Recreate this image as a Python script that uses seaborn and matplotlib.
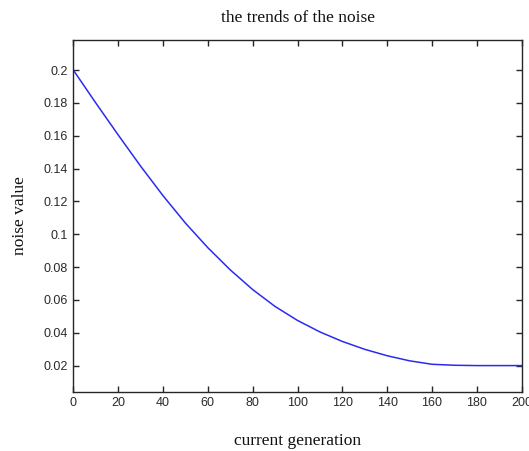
import matplotlib
matplotlib.use("Agg")
import matplotlib.pyplot as plt
import seaborn as sns
import pandas as pd

# noise level sampled along the generations
generation = [0, 10, 20, 30, 40, 50, 60, 70, 80, 90, 100, 110, 120, 130,
              140, 150, 160, 170, 180, 190, 200]
noise = [0.2000, 0.1800, 0.1605, 0.1415, 0.1235, 0.1068, 0.0918, 0.0783,
         0.0663, 0.0560, 0.0475, 0.0405, 0.0347, 0.0299, 0.0260, 0.0229,
         0.0208, 0.0202, 0.0200, 0.0200, 0.0200]

x_ticks = [0, 20, 40, 60, 80, 100, 120, 140, 160, 180, 200]
y_ticks = [0.02, 0.04, 0.06, 0.08, 0.1, 0.12, 0.14, 0.16, 0.18, 0.2]
y_tick_labels = ["0.02", "0.04", "0.06", "0.08", "0.1", "0.12", "0.14",
                 "0.16", "0.18", "0.2"]

sns.set_style("ticks")
plt.rcParams["font.family"] = ["Liberation Sans", "DejaVu Sans"]

df = pd.DataFrame({"generation": generation, "noise": noise})

fig = plt.figure(figsize=(5.29, 4.51), dpi=100)
ax = fig.add_axes([0.1386, 0.1315, 0.8476, 0.7798])

sns.lineplot(data=df, x="generation", y="noise", ax=ax,
             color="#2b2bf0", linewidth=1.1)

ax.set_xlim(0, 200)
ax.set_ylim(0.0041, 0.2183)
ax.set_xticks(x_ticks)
ax.set_yticks(y_ticks)
ax.set_yticklabels(y_tick_labels)

for side in ["top", "right", "bottom", "left"]:
    ax.spines[side].set_visible(True)
    ax.spines[side].set_color("#262626")
    ax.spines[side].set_linewidth(1.0)

ax.tick_params(direction="in", length=4, width=1.0, color="#262626",
               top=True, right=True, labelsize=9, labelcolor="#2a2a2a",
               pad=4)

serif = ["Liberation Serif", "DejaVu Serif"]
ax.set_title("the trends of the noise", family=serif, fontsize=12.5,
             pad=13, color="#111111")
ax.set_xlabel("current generation", family=serif, fontsize=12.5,
              labelpad=17, color="#111111")
ax.set_ylabel("noise value", family=serif, fontsize=12.5,
              labelpad=11, color="#111111")

fig.savefig("out.png", dpi=100, facecolor="white")
